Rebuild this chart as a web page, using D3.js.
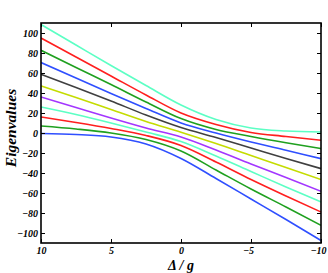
<!DOCTYPE html>
<html>
<head>
<meta charset="utf-8">
<script src="https://cdn.jsdelivr.net/npm/d3@7"></script>
<style>
  body { margin: 0; background: #fff; }
  text { font-family: "Liberation Serif", "DejaVu Serif", serif; }
</style>
</head>
<body>
<div id="chart"></div>
<script>
// detuning values (x), largest on the left
const deltas = [10, 7.5, 5, 2.5, 0, -2.5, -5, -7.5, -10];

// eigenvalue branches, top to bottom
const level1  = [108.5, 88, 67.5, 47.5, 28, 13.5, 5, 2, 1];
const level2  = [95, 76, 57, 38, 20, 8.5, 0.5, -3.5, -7.3];
const level3  = [82.7, 65.5, 48.5, 31, 14.4, 3.5, -3.5, -9.8, -15.6];
const level4  = [70.4, 54.9, 39.6, 24.6, 10.1, 0, -9, -17.3, -25.6];
const level5  = [58.7, 45.5, 32, 18, 5.5, -4.5, -15, -25.5, -35.6];
const level6  = [47, 35.5, 23.5, 11.5, 0.8, -10.5, -22.5, -34.5, -46.6];
const level7  = [36, 25.5, 15, 5, -4, -17, -31, -44.5, -58.3];
const level8  = [26, 18.5, 10, 1, -8.5, -23, -38.5, -54, -69];
const level9  = [16, 10.5, 4.5, -2.5, -12.5, -29, -46.5, -63, -79];
const level10 = [7, 4, 0, -6.5, -18, -37, -56, -74, -92.3];
const level11 = [-0.5, -1.5, -4, -11, -25.5, -45.5, -66, -86.5, -107.5];

const levels = [level1, level2, level3, level4, level5, level6,
                level7, level8, level9, level10, level11];
const colors = ['#5cffc4', '#ff1f1f', '#1fa01f', '#2f4fff', '#404040', '#c4dc00',
                '#a336ff', '#5cffc4', '#ff1f1f', '#1fa01f', '#2f4fff'];

const xTicks = [10, 5, 0, -5, -10];
const yTicks = [-100, -80, -60, -40, -20, 0, 20, 40, 60, 80, 100];

const width = 328, height = 273;
const plot = { left: 41, right: 321, top: 23, bottom: 243 };

const fmt = d => (d < 0 ? '\u2212' + Math.abs(d) : '' + d);

const svg = d3.select('#chart').append('svg')
    .attr('width', width)
    .attr('height', height);

const x = d3.scaleLinear().domain([10, -10]).range([plot.left, plot.right]);
const y = d3.scaleLinear().domain([-110, 110]).range([plot.bottom, plot.top]);

svg.append('clipPath').attr('id', 'clip')
    .append('rect')
    .attr('x', plot.left).attr('y', plot.top)
    .attr('width', plot.right - plot.left)
    .attr('height', plot.bottom - plot.top);

const line = d3.line()
    .x((d, i) => x(deltas[i]))
    .y(d => y(d))
    .curve(d3.curveMonotoneX);

svg.append('g')
    .attr('clip-path', 'url(#clip)')
    .selectAll('path')
    .data(levels)
    .enter()
    .append('path')
    .attr('d', line)
    .attr('fill', 'none')
    .attr('stroke', (d, i) => colors[i])
    .attr('stroke-width', 1.6);

// frame axes, ticks pointing inwards
const axisFont = g => g.selectAll('text')
    .attr('font-size', 10)
    .attr('font-weight', 'bold')
    .attr('font-style', 'italic')
    .attr('fill', '#000');

const strip = g => {
    g.select('.domain').remove();
    g.selectAll('.tick line').attr('stroke', '#000').attr('stroke-width', 1);
};

svg.append('g')
    .attr('transform', `translate(0,${plot.bottom})`)
    .call(d3.axisBottom(x).tickValues(xTicks).tickSize(-4).tickPadding(4).tickFormat(fmt))
    .call(strip)
    .call(axisFont)
    .call(g => g.selectAll('text').attr('dx', d => (d < 0 ? -3 : 0)));

svg.append('g')
    .attr('transform', `translate(0,${plot.top})`)
    .call(d3.axisTop(x).tickValues(xTicks).tickSize(-4).tickFormat(''))
    .call(strip);

svg.append('g')
    .attr('transform', `translate(${plot.left},0)`)
    .call(d3.axisLeft(y).tickValues(yTicks).tickSize(-4).tickPadding(3).tickFormat(fmt))
    .call(strip)
    .call(axisFont);

svg.append('g')
    .attr('transform', `translate(${plot.right},0)`)
    .call(d3.axisRight(y).tickValues(yTicks).tickSize(-4).tickFormat(''))
    .call(strip);

svg.append('rect')
    .attr('x', plot.left).attr('y', plot.top)
    .attr('width', plot.right - plot.left)
    .attr('height', plot.bottom - plot.top)
    .attr('fill', 'none')
    .attr('stroke', '#000')
    .attr('stroke-width', 1.6);

svg.append('text')
    .attr('x', (plot.left + plot.right) / 2)
    .attr('y', 270)
    .attr('text-anchor', 'middle')
    .attr('font-size', 14)
    .attr('font-weight', 'bold')
    .attr('font-style', 'italic')
    .text('\u0394 / g');

svg.append('text')
    .attr('transform', 'translate(16,128) rotate(-90)')
    .attr('text-anchor', 'middle')
    .attr('font-size', 15.5)
    .attr('font-weight', 'bold')
    .attr('font-style', 'italic')
    .text('Eigenvalues');
</script>
</body>
</html>
